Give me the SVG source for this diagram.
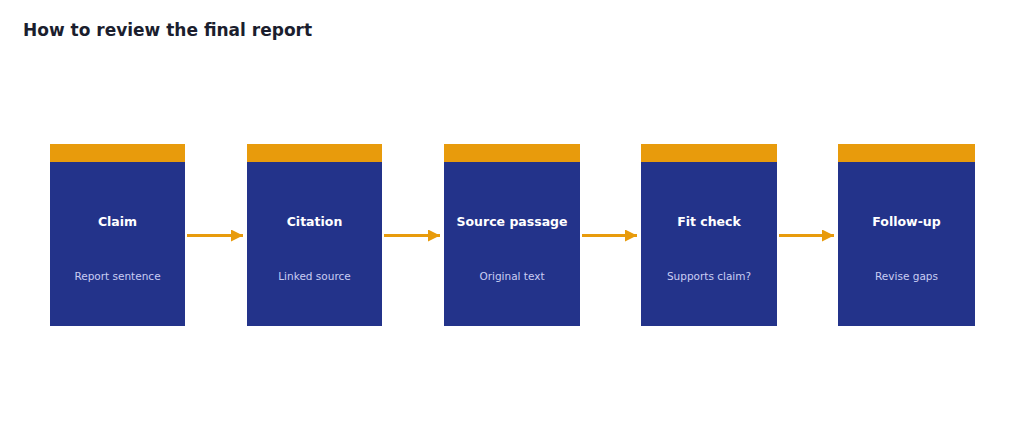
<svg xmlns="http://www.w3.org/2000/svg" width="1024" height="441" viewBox="0 0 1024 441">
<style>
.body{fill:#23338a}
.top{fill:#e89b0c}
.t{font-family:"DejaVu Sans",sans-serif;font-size:12.5px;font-weight:bold;fill:#ffffff;text-anchor:middle}
.s{font-family:"DejaVu Sans",sans-serif;font-size:10.5px;fill:#c9cdf3;text-anchor:middle}
.c{stroke:#e89b0c;stroke-width:3;fill:none}
</style>
<defs><marker id="a" markerWidth="6" markerHeight="6" refX="5" refY="3" orient="auto" markerUnits="userSpaceOnUse" viewBox="0 0 6 6"><path d="M0,0 L6,3 L0,6Z" fill="#e89b0c"/></marker>
<marker id="ah" viewBox="0 0 10 10" refX="10" refY="5" markerWidth="12" markerHeight="12" markerUnits="userSpaceOnUse" orient="auto"><path d="M0,0 L10,5 L0,10Z" fill="#e89b0c"/></marker></defs>
<rect width="1024" height="441" fill="#ffffff"/>
<text x="23" y="36" font-family="DejaVu Sans,sans-serif" font-size="17" font-weight="bold" fill="#1b1e2e">How to review the final report</text>
<g id="n1"><rect class="body" x="50" y="144" width="135" height="182"/><rect class="top" x="50" y="144" width="135" height="18"/><text class="t" x="117.5" y="226">Claim</text><text class="s" x="117.5" y="280">Report sentence</text></g>
<g id="n2"><rect class="body" x="247" y="144" width="135" height="182"/><rect class="top" x="247" y="144" width="135" height="18"/><text class="t" x="314.5" y="226">Citation</text><text class="s" x="314.5" y="280">Linked source</text></g>
<g id="n3"><rect class="body" x="444" y="144" width="136" height="182"/><rect class="top" x="444" y="144" width="136" height="18"/><text class="t" x="512" y="226">Source passage</text><text class="s" x="512" y="280">Original text</text></g>
<g id="n4"><rect class="body" x="641" y="144" width="136" height="182"/><rect class="top" x="641" y="144" width="136" height="18"/><text class="t" x="709" y="226">Fit check</text><text class="s" x="709" y="280">Supports claim?</text></g>
<g id="n5"><rect class="body" x="838" y="144" width="137" height="182"/><rect class="top" x="838" y="144" width="137" height="18"/><text class="t" x="906.5" y="226">Follow-up</text><text class="s" x="906.5" y="280">Revise gaps</text></g>
<g id="connectors">
<line class="c" x1="187" y1="235.5" x2="243" y2="235.5" marker-end="url(#ah)"/>
<line class="c" x1="384" y1="235.5" x2="440" y2="235.5" marker-end="url(#ah)"/>
<line class="c" x1="582" y1="235.5" x2="637" y2="235.5" marker-end="url(#ah)"/>
<line class="c" x1="779" y1="235.5" x2="834" y2="235.5" marker-end="url(#ah)"/>
</g>
</svg>
